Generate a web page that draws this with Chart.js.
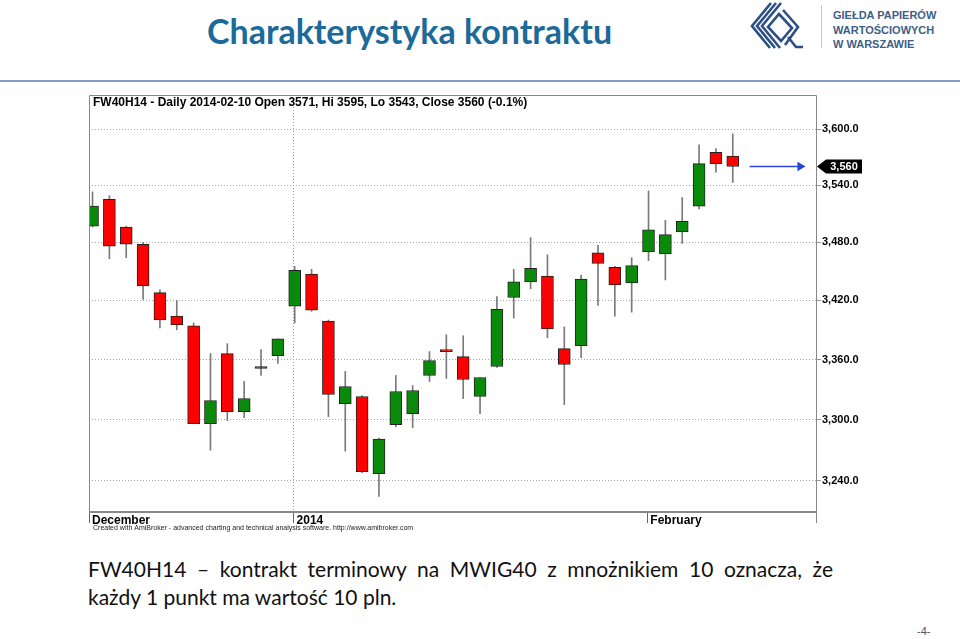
<!DOCTYPE html>
<html lang="pl">
<head>
<meta charset="UTF-8">
<title>Charakterystyka kontraktu</title>
<script src="https://cdn.jsdelivr.net/npm/chart.js"></script>
<style>
  body { margin: 0; width: 960px; height: 639px; background: #fff; position: relative; overflow: hidden; font-family: Lato, sans-serif; }
  .title { position: absolute; left: 207px; top: 10px; font: bold 34px Lato, sans-serif; color: #1b6a99; white-space: nowrap; }
  .logo { position: absolute; left: 749px; top: 1px; }
  .sep { position: absolute; left: 821px; top: 5px; width: 1px; height: 43px; background: #c8c8c8; }
  .gpw { position: absolute; left: 833px; top: 8px; font: bold 11px "Liberation Sans", Arial, sans-serif; line-height: 14.5px; color: #3e5f85; }
  .rule { position: absolute; left: 0; top: 80px; width: 960px; height: 2px; background: #7d9dc7; }
  #wrap { position: absolute; left: 0; top: 85px; width: 960px; height: 450px; }
  .note { position: absolute; left: 88px; top: 555px; width: 745px; font: 21px Lato, sans-serif; color: #111; line-height: 28px; }
  .note .l1 { text-align: justify; text-align-last: justify; }
  .page { position: absolute; left: 917px; top: 625px; font: 11px "Liberation Sans", Arial, sans-serif; color: #555; }
</style>
</head>
<body>
<div class="title">Charakterystyka kontraktu</div>
<svg class="logo" width="58" height="50" viewBox="0 0 58 50">
  <g fill="none" stroke="#2c4f86" stroke-width="2.6">
    <path d="M22 2 L3 25 L21 47"/>
    <path d="M27 2 L8 25 L26 47"/>
    <path d="M32 2 L13 25 L31 47"/>
    <path d="M30 13 L43 27 L32 40 L19 26 Z"/>
    <path d="M34 9 L49 26 L36 44"/>
    <path d="M39 36 L47 46 L54 46"/>
  </g>
</svg>
<div class="sep"></div>
<div class="gpw">GIEŁDA PAPIERÓW<br>WARTOŚCIOWYCH<br>W WARSZAWIE</div>
<div class="rule"></div>
<div id="wrap"><canvas id="chart"></canvas></div>
<div class="note">
  <div class="l1">FW40H14 – kontrakt terminowy na MWIG40 z mnożnikiem 10 oznacza, że</div>
  <div>każdy 1 punkt ma wartość 10 pln.</div>
</div>
<div class="page">-4-</div>

<script>
// sessions, Dec 2013 - Feb 2014
const dates = [
  '2013-12-10', '2013-12-11', '2013-12-12', '2013-12-13', '2013-12-16', '2013-12-17',
  '2013-12-18', '2013-12-19', '2013-12-20', '2013-12-23', '2013-12-27', '2013-12-30',
  '2014-01-02', '2014-01-03', '2014-01-07', '2014-01-08', '2014-01-09', '2014-01-10',
  '2014-01-13', '2014-01-14', '2014-01-15', '2014-01-16', '2014-01-17', '2014-01-20',
  '2014-01-21', '2014-01-22', '2014-01-23', '2014-01-24', '2014-01-27', '2014-01-28',
  '2014-01-29', '2014-01-30', '2014-01-31', '2014-02-03', '2014-02-04', '2014-02-05',
  '2014-02-06', '2014-02-07', '2014-02-10'
];
const open = [3497, 3525, 3496, 3478, 3428, 3404, 3394, 3296, 3366, 3308, 3351, 3364,
  3414, 3447, 3399, 3316, 3323, 3247, 3295, 3306, 3344, 3369, 3363, 3323, 3353, 3423,
  3439, 3445, 3371, 3374, 3469, 3454, 3438, 3470, 3468, 3491, 3518, 3575, 3571];
const high = [3533, 3529, 3497, 3480, 3431, 3420, 3397, 3366, 3376, 3338, 3370, 3381,
  3455, 3452, 3400, 3348, 3324, 3282, 3344, 3334, 3368, 3385, 3384, 3342, 3424, 3452,
  3485, 3467, 3393, 3446, 3477, 3455, 3464, 3534, 3503, 3527, 3583, 3579, 3595];
const low = [3496, 3463, 3464, 3421, 3392, 3390, 3296, 3270, 3299, 3302, 3344, 3356,
  3397, 3409, 3303, 3269, 3248, 3225, 3293, 3292, 3338, 3341, 3321, 3306, 3352, 3402,
  3432, 3382, 3315, 3362, 3415, 3404, 3408, 3461, 3441, 3479, 3515, 3554, 3543];
const close = [3518, 3476, 3478, 3435, 3400, 3395, 3296, 3319, 3308, 3321, 3351, 3381,
  3451, 3410, 3325, 3333, 3249, 3281, 3328, 3329, 3359, 3368, 3340, 3342, 3411, 3439,
  3453, 3391, 3355, 3442, 3458, 3436, 3456, 3493, 3488, 3502, 3563, 3563, 3560];

const yTicks = [3240, 3300, 3360, 3420, 3480, 3540, 3600];
const monthLabels = ['December', '2014', 'February'];
const ticker = 'FW40H14';

const UP = '#0a8a0a', DOWN = '#ff0000', FLAT = '#333333';
const n = dates.length;

const wicks = dates.map((d, i) => ({ x: i + 1, y: [low[i], high[i]] }));
const bodies = dates.map((d, i) => ({ x: i + 1, y: [open[i], close[i]] }));
const bodyColors = dates.map((d, i) => close[i] > open[i] ? UP : (close[i] < open[i] ? DOWN : FLAT));

// first session of each month
const monthStarts = [];
dates.forEach((d, i) => {
  if (i === 0 || d.slice(0, 7) !== dates[i - 1].slice(0, 7)) monthStarts.push(i + 1);
});
const xMin = 0.79, xMax = 43.94;
const monthTickPos = monthStarts.map((p, i) => i === 0 ? xMin : p - 0.07);

const lastClose = close[n - 1];
const pct = ((close[n - 1] - close[n - 2]) / close[n - 2] * 100).toFixed(1);

const fmt = v => v.toLocaleString('en-US', { minimumFractionDigits: 1, maximumFractionDigits: 1 });

const decorations = {
  id: 'decorations',
  afterDraw(chart) {
    const { ctx, chartArea: a, scales } = chart;
    ctx.save();
    // frame
    ctx.strokeStyle = '#888';
    ctx.lineWidth = 1;
    ctx.beginPath();
    ctx.moveTo(a.left + 0.5, a.bottom);
    ctx.lineTo(a.left + 0.5, a.top + 0.5);
    ctx.lineTo(a.right + 0.5, a.top + 0.5);
    ctx.lineTo(a.right + 0.5, a.bottom + 12);
    ctx.stroke();
    ctx.lineWidth = 2;
    ctx.beginPath();
    ctx.moveTo(a.left, a.bottom + 1);
    ctx.lineTo(a.right, a.bottom + 1);
    ctx.stroke();

    // header text
    ctx.fillStyle = '#000';
    ctx.font = 'bold 12px "Liberation Sans", Arial, sans-serif';
    ctx.textBaseline = 'middle';
    ctx.textAlign = 'left';
    ctx.fillText(ticker + ' - Daily ' + dates[n - 1] + ' Open ' + open[n - 1] + ', Hi ' + high[n - 1] +
      ', Lo ' + low[n - 1] + ', Close ' + close[n - 1] + ' (' + pct + '%)', a.left + 4, a.top + 8);

    // footer
    ctx.font = '7px "Liberation Sans", Arial, sans-serif';
    ctx.fillStyle = '#222';
    ctx.fillText('Created with AmiBroker - advanced charting and technical analysis software. http://www.amibroker.com',
      a.left + 4, a.bottom + 17);

    // last price tag
    const y = scales.y.getPixelForValue(lastClose);
    const x0 = a.right + 1;
    ctx.fillStyle = '#000';
    ctx.beginPath();
    ctx.moveTo(x0, y);
    ctx.lineTo(x0 + 9, y - 7);
    ctx.lineTo(x0 + 45, y - 7);
    ctx.lineTo(x0 + 45, y + 7);
    ctx.lineTo(x0 + 9, y + 7);
    ctx.closePath();
    ctx.fill();
    ctx.fillStyle = '#fff';
    ctx.font = 'bold 11px "Liberation Sans", Arial, sans-serif';
    ctx.textAlign = 'center';
    ctx.fillText(lastClose.toLocaleString('en-US'), x0 + 27, y + 0.5);
    ctx.restore();
  }
};

new Chart(document.getElementById('chart'), {
  type: 'bar',
  data: {
    datasets: [
      {
        label: 'range',
        data: wicks,
        backgroundColor: '#7a7a7a',
        barThickness: 1,
        grouped: false,
        order: 3,
        clip: 0
      },
      {
        label: 'body',
        data: bodies,
        backgroundColor: bodyColors,
        borderColor: '#222',
        borderWidth: 1,
        borderSkipped: false,
        barThickness: 12,
        minBarLength: 2,
        grouped: false,
        order: 2,
        clip: 0
      },
      {
        type: 'line',
        label: 'last',
        data: [{ x: n + 1, y: lastClose }, { x: n + 4, y: lastClose }],
        borderColor: '#2b45d6',
        borderWidth: 1.5,
        pointRadius: [0, 4],
        pointStyle: 'triangle',
        rotation: 90,
        pointBackgroundColor: '#2b45d6',
        pointBorderColor: '#2b45d6',
        order: 1
      }
    ]
  },
  options: {
    responsive: true,
    maintainAspectRatio: false,
    animation: false,
    layout: { padding: { left: 89, top: 10, right: 0, bottom: 0 } },
    plugins: {
      legend: { display: false },
      tooltip: { enabled: false }
    },
    scales: {
      x: {
        type: 'linear',
        min: xMin,
        max: xMax,
        bounds: 'data',
        offset: false,
        afterBuildTicks: s => { s.ticks = monthTickPos.map(v => ({ value: v })); },
        afterFit: s => { s.height = 24; },
        grid: {
          offset: false,
          color: c => c.index === 1 ? '#9a9a9a' : 'rgba(0,0,0,0)',
          tickColor: '#666',
          tickLength: 12,
          drawTicks: true
        },
        border: { display: false, dash: [1, 2] },
        ticks: {
          autoSkip: false,
          maxRotation: 0,
          align: 'start',
          labelOffset: 3,
          padding: -10,
          color: '#000',
          font: { family: '"Liberation Sans", Arial, sans-serif', size: 12, weight: 'bold' },
          callback: (v, i) => monthLabels[i]
        }
      },
      y: {
        type: 'logarithmic',
        position: 'right',
        min: 3211,
        max: 3637,
        bounds: 'data',
        afterBuildTicks: s => { s.ticks = yTicks.map(v => ({ value: v })); },
        afterFit: s => { s.width = 144; },
        grid: {
          color: '#a8a8a8',
          tickColor: '#999',
          tickLength: 5
        },
        border: { display: false, dash: [1, 2] },
        ticks: {
          autoSkip: false,
          padding: 1,
          color: '#000',
          font: { family: '"Liberation Sans", Arial, sans-serif', size: 11, weight: 'bold' },
          callback: v => fmt(v)
        }
      }
    }
  },
  plugins: [decorations]
});
</script>
</body>
</html>
